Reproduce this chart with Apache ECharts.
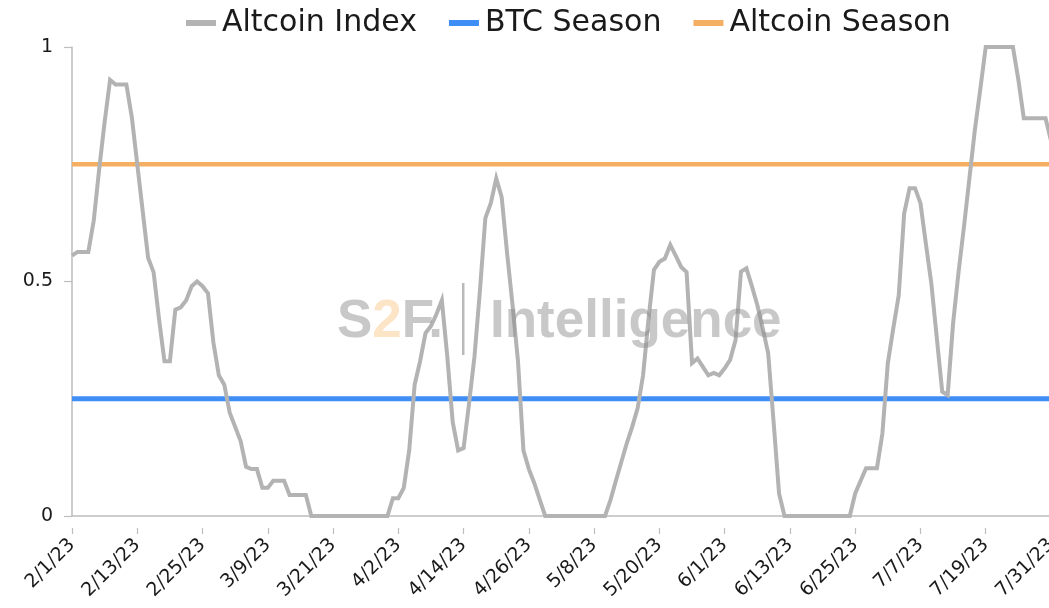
<!DOCTYPE html>
<html>
<head>
<meta charset="utf-8">
<script src="https://cdn.jsdelivr.net/npm/echarts@6/dist/echarts.min.js"></script>
<style>
html,body{margin:0;padding:0;background:#fff;}
#chart{width:1049px;height:608px;}
</style>
</head>
<body>
<div id="chart"></div>
<script>
// ---- data ----
const startDate = [2023, 2, 1];   // first category (Y, M, D)
const dayCount = 181;             // 2/1/23 .. 7/31/23

const altcoinIndex = [
  0.555, 0.563, 0.563, 0.563, 0.63, 0.74, 0.84, 0.93, 0.92, 0.92,
  0.92, 0.85, 0.75, 0.65, 0.55, 0.52, 0.42, 0.33, 0.33, 0.44,
  0.445, 0.46, 0.49, 0.50, 0.49, 0.475, 0.37, 0.30, 0.28, 0.22,
  0.19, 0.16, 0.105, 0.10, 0.10, 0.06, 0.06, 0.075, 0.075, 0.075,
  0.045, 0.045, 0.045, 0.045, 0, 0, 0, 0, 0, 0,
  0, 0, 0, 0, 0, 0, 0, 0, 0, 0.038,
  0.038, 0.06, 0.14, 0.28, 0.33, 0.39, 0.405, 0.43, 0.46, 0.34,
  0.20, 0.14, 0.145, 0.24, 0.34, 0.48, 0.635, 0.667, 0.72, 0.68,
  0.56, 0.45, 0.33, 0.14, 0.10, 0.07, 0.035, 0, 0, 0,
  0, 0, 0, 0, 0, 0, 0, 0, 0, 0.034,
  0.075, 0.115, 0.155, 0.19, 0.23, 0.30, 0.42, 0.525, 0.542, 0.549,
  0.578, 0.555, 0.531, 0.52, 0.326, 0.336, 0.318, 0.30, 0.305, 0.30,
  0.315, 0.333, 0.375, 0.521, 0.528, 0.49, 0.45, 0.40, 0.347, 0.20,
  0.048, 0, 0, 0, 0, 0, 0, 0, 0, 0,
  0, 0, 0, 0, 0.048, 0.075, 0.102, 0.102, 0.102, 0.176,
  0.326, 0.40, 0.47, 0.645, 0.699, 0.699, 0.667, 0.58, 0.496, 0.38,
  0.265, 0.258, 0.411, 0.52, 0.617, 0.72, 0.823, 0.91, 1, 1,
  1, 1, 1, 1, 0.93, 0.848, 0.848, 0.848, 0.848, 0.848,
  0.80
];
const btcSeasonLevel = 0.25;
const altcoinSeasonLevel = 0.75;
const yTicks = [0, 0.5, 1];
const seriesNames = ['Altcoin Index', 'BTC Season', 'Altcoin Season'];

// ---- build ----
const categories = [];
for (let i = 0; i < dayCount; i++) {
  const d = new Date(Date.UTC(startDate[0], startDate[1] - 1, startDate[2] + i));
  categories.push((d.getUTCMonth() + 1) + '/' + d.getUTCDate() + '/' + String(d.getUTCFullYear()).slice(2));
}
const btcSeries = categories.map(() => btcSeasonLevel);
const altSeasonSeries = categories.map(() => altcoinSeasonLevel);

const FONT = 'DejaVu Sans';
const chart = echarts.init(document.getElementById('chart'), null, {renderer: 'canvas'});
chart.setOption({
  animation: false,
  backgroundColor: '#ffffff',
  textStyle: {fontFamily: FONT},
  legend: {
    top: 3,
    left: 181,
    itemGap: 32,
    itemWidth: 30,
    itemHeight: 6,
    icon: 'rect',
    textStyle: {fontFamily: FONT, fontSize: 30, color: '#1a1a1a', padding: [0, 0, 0, 1]},
    data: seriesNames
  },
  grid: {left: 72, right: -2, top: 47, bottom: 92, containLabel: false, outerBoundsMode: 'none'},
  xAxis: [{
    type: 'category',
    data: categories,
    boundaryGap: false,
    axisLine: {lineStyle: {color: '#bdbdbd', width: 1.5}},
    axisTick: {show: false},
    axisLabel: {
      interval: 11,
      rotate: 45,
      margin: 26,
      fontFamily: FONT,
      fontSize: 19,
      color: '#1a1a1a'
    },
    splitLine: {show: false}
  }, {
    type: 'category',
    data: categories,
    boundaryGap: false,
    position: 'bottom',
    offset: 12,
    axisLine: {show: false},
    axisTick: {show: true, interval: 11, length: 6, lineStyle: {color: '#bdbdbd', width: 1.2}},
    axisLabel: {show: false},
    splitLine: {show: false}
  }],
  yAxis: {
    type: 'value',
    min: yTicks[0],
    max: yTicks[yTicks.length - 1],
    interval: 0.5,
    axisLine: {show: true, lineStyle: {color: '#bdbdbd', width: 1.5}},
    axisTick: {show: true, length: 8, lineStyle: {color: '#bdbdbd', width: 1.2}},
    axisLabel: {
      margin: 19,
      fontFamily: FONT,
      fontSize: 19,
      color: '#1a1a1a',
      formatter: v => String(v)
    },
    splitLine: {show: false}
  },
  graphic: [{
    type: 'text',
    left: 337,
    top: 296,
    z: 100,
    style: {
      text: '{g|S}{o|2}{g|F.}',
      rich: {
        g: {fontFamily: 'Liberation Sans', fontWeight: 'bold', fontSize: 53, fill: 'rgba(140,140,140,0.48)'},
        o: {fontFamily: 'Liberation Sans', fontWeight: 'bold', fontSize: 53, fill: 'rgba(247,190,120,0.42)'}
      }
    }
  }, {
    type: 'rect',
    z: 100,
    shape: {x: 462, y: 283, width: 2.5, height: 72},
    style: {fill: 'rgba(140,140,140,0.6)'}
  }, {
    type: 'text',
    left: 490,
    top: 296,
    z: 100,
    style: {
      text: 'Intelligence',
      fontFamily: 'Liberation Sans',
      fontWeight: 'bold',
      fontSize: 53,
      fill: 'rgba(140,140,140,0.48)'
    }
  }],
  series: [{
    name: seriesNames[0],
    type: 'line',
    data: altcoinIndex,
    showSymbol: false,
    symbol: 'none',
    xAxisIndex: 0,
    lineStyle: {color: '#b3b3b3', width: 4, join: 'miter'},
    itemStyle: {color: '#b3b3b3'},
    z: 3
  }, {
    name: seriesNames[1],
    type: 'line',
    data: btcSeries,
    showSymbol: false,
    symbol: 'none',
    xAxisIndex: 0,
    lineStyle: {color: '#3f8ef6', width: 5},
    itemStyle: {color: '#3f8ef6'},
    z: 2
  }, {
    name: seriesNames[2],
    type: 'line',
    data: altSeasonSeries,
    showSymbol: false,
    symbol: 'none',
    xAxisIndex: 0,
    lineStyle: {color: '#f5af62', width: 4.5},
    itemStyle: {color: '#f5af62'},
    z: 2
  }]
});
</script>
</body>
</html>
